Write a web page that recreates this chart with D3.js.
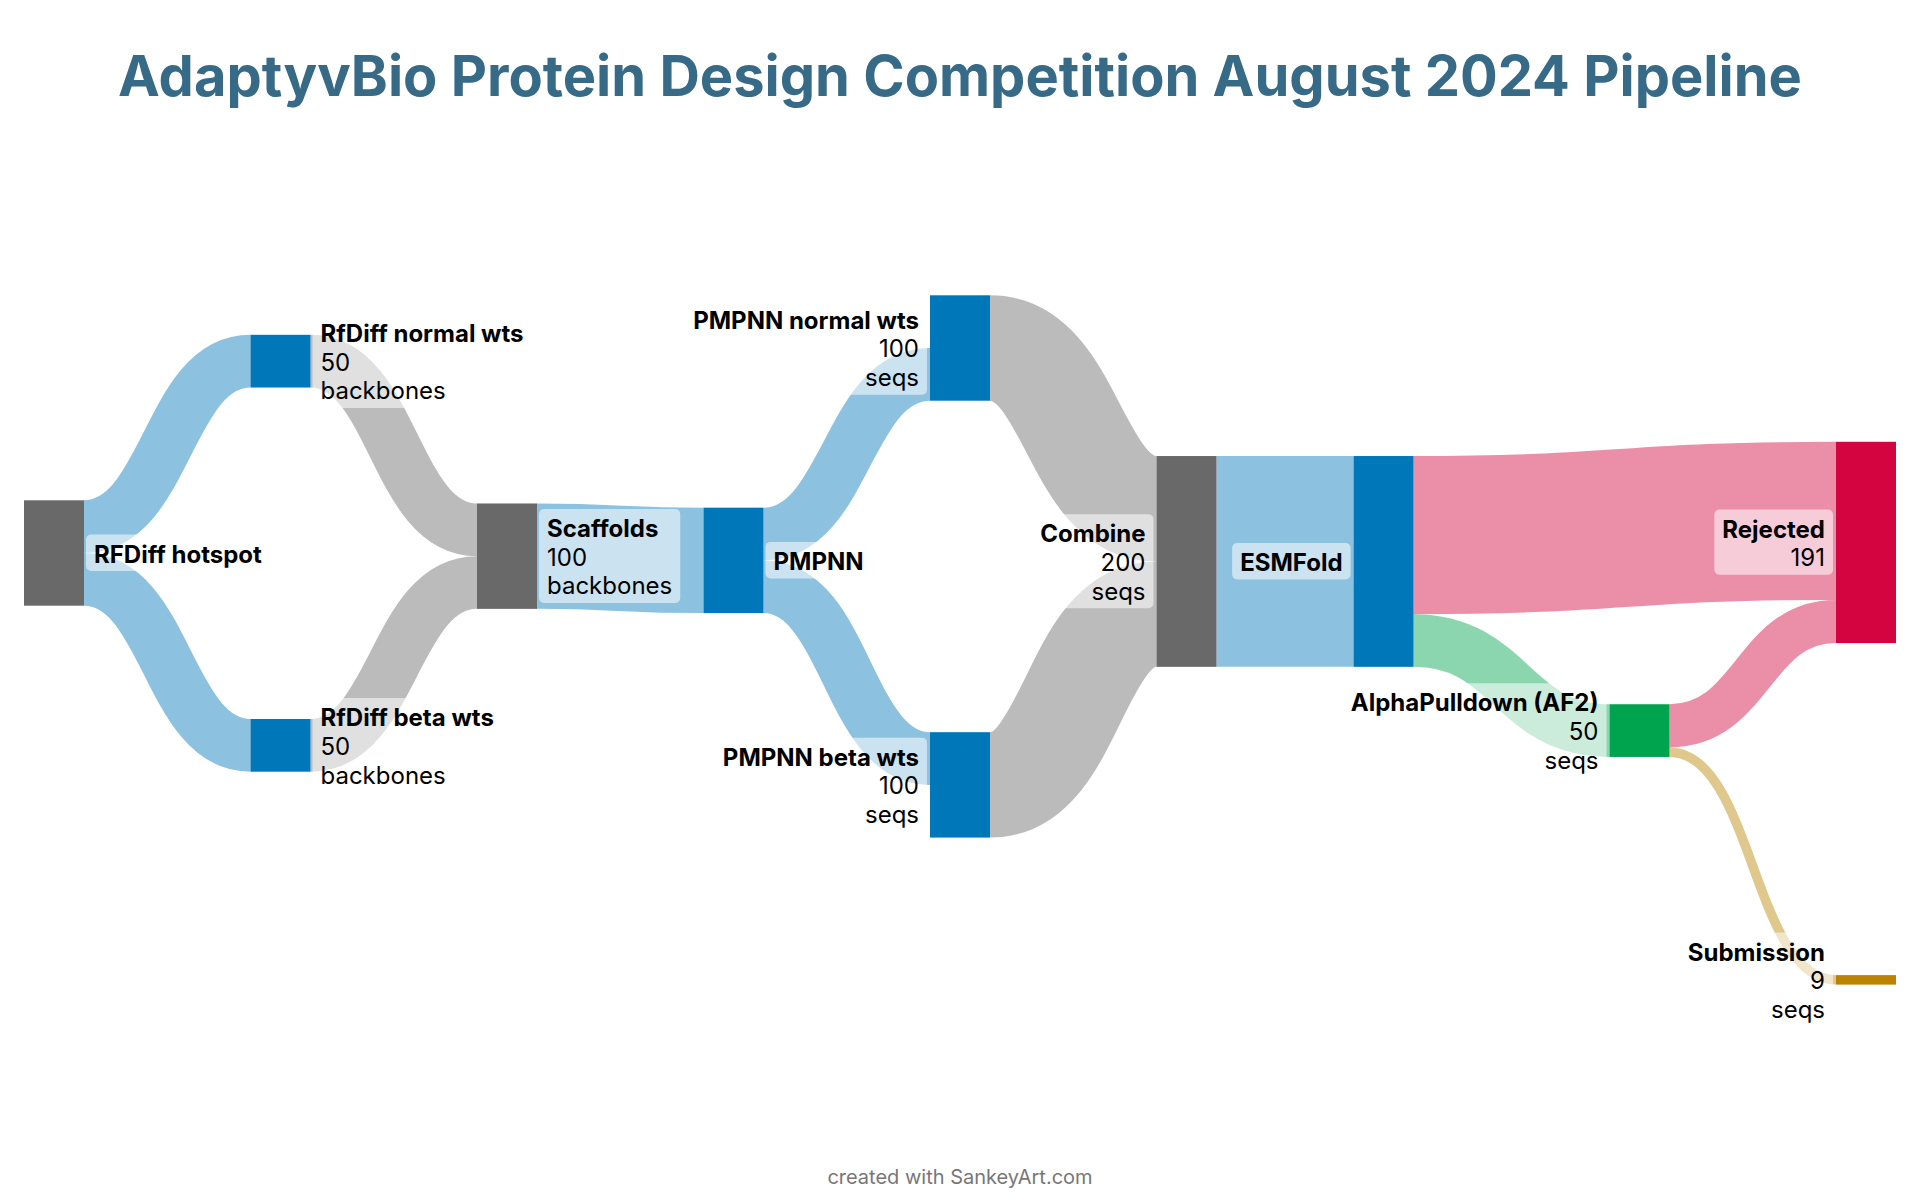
<!DOCTYPE html>
<html><head><meta charset="utf-8">
<script src="https://cdn.jsdelivr.net/npm/d3@7"></script>
<style>html,body{margin:0;padding:0;background:#fff;} svg{display:block;}</style>
</head><body><svg id="chart" width="1920" height="1200"></svg>
<script>
// ---------- data ----------
const title = "AdaptyvBio Protein Design Competition August 2024 Pipeline";
const footer = "created with SankeyArt.com";
const nodeNames = ["RFDiff hotspot","RfDiff normal wts","RfDiff beta wts","Scaffolds","PMPNN",
  "PMPNN normal wts","PMPNN beta wts","Combine","ESMFold","AlphaPulldown (AF2)","Rejected","Submission"];
// unit shown under the value; null = no value line, "" = value without unit
const nodeUnits = [null,"backbones","backbones","backbones",null,"seqs","seqs","seqs",null,"seqs","","seqs"];
const linkSources = ["RFDiff hotspot","RFDiff hotspot","RfDiff normal wts","RfDiff beta wts","Scaffolds",
  "PMPNN","PMPNN","PMPNN normal wts","PMPNN beta wts","Combine","ESMFold","ESMFold",
  "AlphaPulldown (AF2)","AlphaPulldown (AF2)"];
const linkTargets = ["RfDiff normal wts","RfDiff beta wts","Scaffolds","Scaffolds","PMPNN",
  "PMPNN normal wts","PMPNN beta wts","Combine","Combine","ESMFold","Rejected","AlphaPulldown (AF2)",
  "Rejected","Submission"];
const linkValues = [50,50,50,50,100,50,50,100,100,200,150,50,41,9];

// ---------- layout (in scale-domain units) & style ----------
const nodeColumns = [0,1,1,2,3,4,4,5,5.87,7,8,8];
const nodeCenters = [0,-182,182.5,3,7,-194.5,220,8,8,168.5,-10,405];
const nodeColors = ["#696969","#0077b8","#0077b8","#696969","#0077b8","#0077b8","#0077b8",
  "#696969","#0077b8","#00a34e","#d3043f","#bb8200"];

const svg = d3.select("#chart");
const W = 1920, H = 1200, nodeW = 60;
const x = d3.scaleLinear().domain([0, 8]).range([24, 1836]);
const y = d3.scaleLinear().domain([0, 100]).range([553, 553 + 105.4]);
const h = v => y(v) - y(0);

const nodes = nodeNames.map((name, i) => ({name, i, unit: nodeUnits[i], color: nodeColors[i],
  col: nodeColumns[i], center: nodeCenters[i], ins: [], outs: []}));
const byName = new Map(nodes.map(n => [n.name, n]));
const links = linkValues.map((v, i) => {
  const l = {source: byName.get(linkSources[i]), target: byName.get(linkTargets[i]), value: v};
  l.source.outs.push(l); l.target.ins.push(l); return l;
});
nodes.forEach(n => {
  const inV = d3.sum(n.ins, l => l.value), outV = d3.sum(n.outs, l => l.value);
  n.value = Math.max(inV, outV); n.inV = inV; n.outV = outV;
  n.x0 = x(n.col); n.x1 = n.x0 + nodeW;
  n.y0 = y(n.center - n.value / 2); n.y1 = y(n.center + n.value / 2);
  n.cy = y(n.center);
});
nodes.forEach(n => {
  n.outs.sort((a, b) => a.target.cy - b.target.cy);
  let off = 0;
  if (n.outV < n.value && d3.mean(n.outs, l => l.target.cy) > n.cy) off = n.value - n.outV;
  n.outs.forEach(l => { l.sy = y(n.center - n.value / 2 + off + l.value / 2); off += l.value; });
  n.ins.sort((a, b) => a.source.cy - b.source.cy);
  off = 0;
  if (n.inV < n.value && d3.mean(n.ins, l => l.source.cy) > n.cy) off = n.value - n.inV;
  n.ins.forEach(l => { l.ty = y(n.center - n.value / 2 + off + l.value / 2); off += l.value; });
});

const linkGen = d3.linkHorizontal();
svg.append("g").selectAll("path").data(links).join("path")
  .attr("d", l => linkGen({source: [l.source.x1, l.sy], target: [l.target.x0, l.ty]}))
  .attr("fill", "none")
  .attr("stroke", l => l.target.color)
  .attr("stroke-opacity", 0.45)
  .attr("stroke-width", l => h(l.value));

svg.append("g").selectAll("rect").data(nodes).join("rect")
  .attr("x", n => n.x0).attr("y", n => n.y0)
  .attr("width", nodeW).attr("height", n => n.y1 - n.y0)
  .attr("fill", n => n.color);

// labels
const fs = 24, lh = 28.75;
const lg = svg.append("g").attr("font-family", "Inter, 'Noto Sans', sans-serif").attr("font-size", fs);
nodes.forEach(n => {
  const lines = [{t: n.name, b: true}];
  if (n.unit !== null) {
    lines.push({t: String(n.value), b: false});
    if (n.unit) lines.push({t: n.unit, b: false});
  }
  const left = n.col >= 4;
  const tx = left ? n.x0 - 11 : n.x1 + 10;
  const firstBase = n.cy + 9.5 - (lines.length - 1) / 2 * lh;
  const g = lg.append("g");
  const box = g.append("rect");
  const text = g.append("text").attr("text-anchor", left ? "end" : "start").attr("fill", "#000");
  lines.forEach((ln, k) => {
    text.append("tspan").attr("x", tx).attr("y", firstBase + k * lh)
      .attr("font-weight", ln.b ? 700 : 400).text(ln.t);
  });
  const bb = text.node().getBBox();
  box.attr("x", bb.x - 8).attr("width", bb.width + 16)
    .attr("y", firstBase - 28).attr("height", (lines.length - 1) * lh + 36.5)
    .attr("rx", 5).attr("fill", "#fff").attr("fill-opacity", 0.55);
});

svg.append("text").attr("x", W / 2).attr("y", 96).attr("text-anchor", "middle")
  .attr("font-family", "Inter, sans-serif").attr("font-weight", 700).attr("font-size", 56)
  .attr("fill", "#366a87").text(title);
svg.append("text").attr("x", W / 2).attr("y", 1184).attr("text-anchor", "middle")
  .attr("font-family", "Inter, sans-serif").attr("font-size", 20)
  .attr("fill", "#777").text(footer);
</script></body></html>
